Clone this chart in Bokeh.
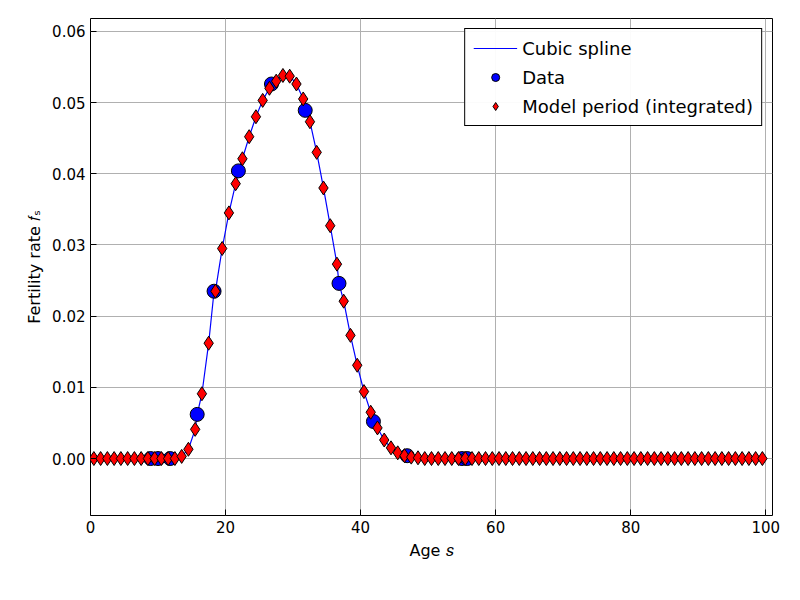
from bokeh.plotting import figure
from bokeh.models import Range1d, FixedTicker, NumeralTickFormatter, Label, Legend, LegendItem
from bokeh.embed import file_html
from bokeh.resources import INLINE

data_age = [8.9, 10.0, 11.8, 15.8, 18.3, 21.9, 26.8, 31.8, 36.8, 41.9, 46.9, 55.0, 55.8]
data_rate = [0.0, 0.0, 0.0, 0.0062, 0.0235, 0.0404, 0.0526, 0.0489, 0.0246, 0.0052, 0.0004, 0.0, 0.0]

model_age = [a + 0.5 for a in range(100)]
nonzero = {13: 0.0003, 14: 0.0013, 15: 0.0041, 16: 0.0091, 17: 0.0162, 18: 0.0235, 19: 0.0295,
           20: 0.0345, 21: 0.0386, 22: 0.0421, 23: 0.0452, 24: 0.0480, 25: 0.0503, 26: 0.0520,
           27: 0.0530, 28: 0.0538, 29: 0.0537, 30: 0.0526, 31: 0.0505, 32: 0.0473, 33: 0.0430,
           34: 0.0380, 35: 0.0327, 36: 0.0273, 37: 0.0221, 38: 0.0173, 39: 0.0131, 40: 0.0094,
           41: 0.0065, 42: 0.0043, 43: 0.0026, 44: 0.0015, 45: 0.0008, 46: 0.0004, 47: 0.0002,
           48: 0.0001}
model_rate = [nonzero.get(a, 0.0) for a in range(100)]

pts = sorted(zip(model_age + data_age[3:11], model_rate + data_rate[3:11]))
spline_age = [p[0] for p in pts]
spline_rate = [p[1] for p in pts]

FONT = "DejaVu Sans"
p = figure(width=784, height=584, output_backend="svg", toolbar_location=None,
           x_range=Range1d(0, 101), y_range=Range1d(-0.008, 0.0618),
           min_border_left=90, min_border_right=12, min_border_top=18, min_border_bottom=69)
p.outline_line_color = "black"
p.outline_line_width = 1

l1 = p.line(spline_age, spline_rate, line_color="blue", line_width=1.2)
r2 = p.scatter(data_age, data_rate, size=14, fill_color="blue", line_color="black")
r3 = p.scatter(model_age, model_rate, marker="diamond", size=14, fill_color="red", line_color="black")

for ax in (p.xaxis[0], p.yaxis[0]):
    ax.major_tick_in = 6
    ax.major_tick_out = 0
    ax.minor_tick_line_color = None
    ax.axis_line_color = None
    ax.major_label_text_font = FONT
    ax.major_label_text_font_size = "15px"
    ax.major_label_text_color = "black"
    ax.axis_label_text_font = FONT
    ax.axis_label_text_font_size = "16px"
    ax.axis_label_text_font_style = "normal"
    ax.axis_label_text_color = "black"
p.xaxis.ticker = FixedTicker(ticks=[0, 20, 40, 60, 80, 100])
p.yaxis.ticker = FixedTicker(ticks=[0.0, 0.01, 0.02, 0.03, 0.04, 0.05, 0.06])
p.yaxis.formatter = NumeralTickFormatter(format="0.00")
p.xaxis.axis_label = "Age 𝑠"
p.yaxis.axis_label = "Fertility rate 𝑓ₛ"
p.grid.grid_line_color = "#b0b0b0"
p.grid.grid_line_alpha = 1

legend = Legend(items=[LegendItem(label="Cubic spline", renderers=[l1]),
                       LegendItem(label="Data", renderers=[r2]),
                       LegendItem(label="Model period (integrated)", renderers=[r3])],
                location="top_right", label_text_font=FONT, label_text_font_size="18px",
                label_text_color="black", label_height=22,
                border_line_color="black", border_line_alpha=1, margin=10, padding=8,
                spacing=7, glyph_width=44)
p.add_layout(legend)

p.add_layout(Label(x=-43, y=-72, x_units="screen", y_units="screen",
                   text="Source: National Vital Statistics Reports, Volume 64, Number 1, January 15, 2015.",
                   text_font=FONT, text_font_size="12px", text_color="black"))

open("out.html", "w").write(file_html(p, INLINE))
